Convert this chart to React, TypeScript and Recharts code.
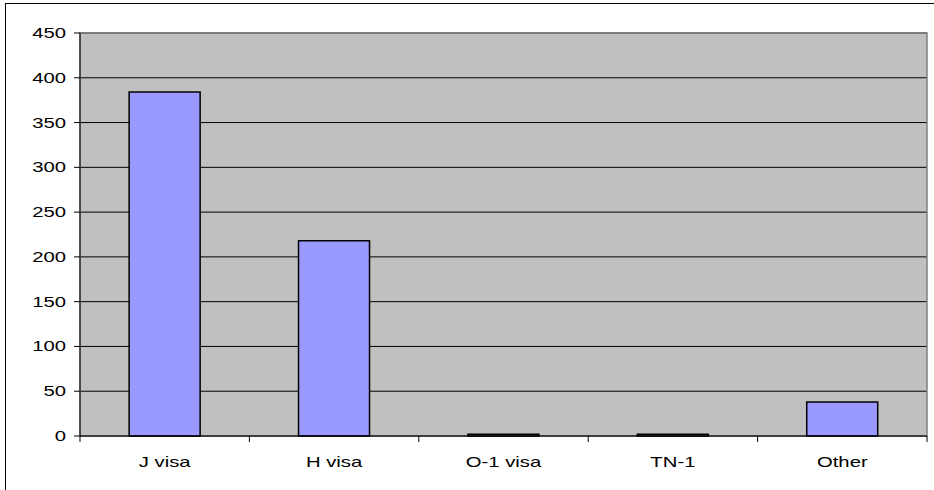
import { BarChart, Bar, XAxis, YAxis, CartesianGrid, ReferenceArea } from 'recharts'

const categories = ['J visa', 'H visa', 'O-1 visa', 'TN-1', 'Other']
const counts = [384, 218, 2, 2, 38]
const yTicks = [0, 50, 100, 150, 200, 250, 300, 350, 400, 450]

const data = categories.map((name, i) => ({ name, count: counts[i] }))

const W = 934
const H = 490
const xAxisHeight = 30
const margin = { top: 33, right: 7, bottom: 54 - xAxisHeight, left: 20 }
const yAxisWidth = 60
const plotWidth = W - margin.left - margin.right - yAxisWidth
const halfBand = plotWidth / categories.length / 2

// the original text is stretched sideways
const stretch = 1.45
const font = { fontFamily: 'Liberation Sans, Arial, sans-serif', fontSize: 14, fill: '#000' }

function CategoryTick(props: any) {
  const { x, y, payload, index } = props
  const axisY = y - 8
  return (
    <g>
      <line x1={x - halfBand} x2={x - halfBand} y1={axisY} y2={axisY + 6} stroke="#000" />
      {index === categories.length - 1 && (
        <line x1={x + halfBand} x2={x + halfBand} y1={axisY} y2={axisY + 6} stroke="#000" />
      )}
      <text
        transform={`translate(${x},${axisY + 31}) scale(${stretch},1)`}
        textAnchor="middle"
        style={font}
      >
        {payload.value}
      </text>
    </g>
  )
}

function ValueTick(props: any) {
  const { x, y, payload } = props
  return (
    <text
      transform={`translate(${x},${y + 5}) scale(${stretch},1)`}
      textAnchor="end"
      style={font}
    >
      {payload.value}
    </text>
  )
}

export default function App() {
  return (
    <div
      style={{
        position: 'absolute',
        left: 0,
        top: 0,
        width: W,
        height: H,
        background: '#fff',
        overflow: 'hidden',
      }}
    >
      <div
        style={{
          position: 'absolute',
          left: 5,
          top: 3,
          width: W + 10,
          height: H + 10,
          border: '1px solid #000',
          boxSizing: 'border-box',
        }}
      />
      <BarChart
        width={W}
        height={H}
        data={data}
        margin={margin}
        barCategoryGap="29%"
        style={{ position: 'absolute', left: 0, top: 0 }}
      >
        <CartesianGrid vertical={false} fill="#C0C0C0" stroke="#000" strokeOpacity={1} />
        <ReferenceArea y1={0} y2={450} fill="none" stroke="#808080" strokeWidth={1.5} />
        <XAxis
          dataKey="name"
          height={xAxisHeight}
          axisLine={{ stroke: '#000' }}
          tickLine={false}
          tick={<CategoryTick />}
          interval={0}
        />
        <YAxis
          width={yAxisWidth}
          domain={[0, 450]}
          ticks={yTicks}
          interval={0}
          axisLine={{ stroke: '#000' }}
          tickLine={{ stroke: '#000' }}
          tickSize={6}
          tickMargin={8}
          tick={<ValueTick />}
        />
        <Bar dataKey="count" fill="#9999FF" stroke="#000" strokeWidth={1.5} isAnimationActive={false} />
      </BarChart>
    </div>
  )
}
